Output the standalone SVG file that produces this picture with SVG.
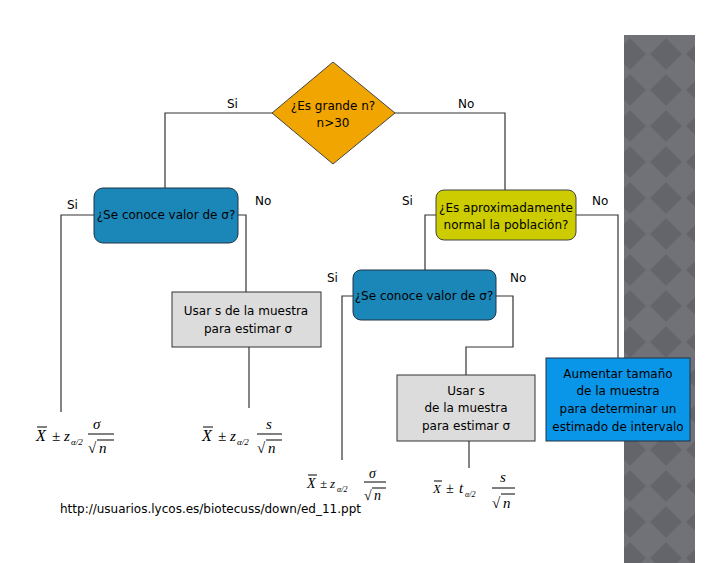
<svg xmlns="http://www.w3.org/2000/svg" width="728" height="563" viewBox="0 0 728 563">
<style>
.t{font-family:"DejaVu Sans","Liberation Sans",sans-serif;font-size:12px;fill:#000}
.c{text-anchor:middle}
.m{font-family:"Liberation Serif",serif;font-style:italic;fill:#000}
.ln{stroke:#333;stroke-width:1.2;fill:none}
.f{stroke:#000;stroke-width:1;fill:none}
</style>
<defs>
<pattern id="dp" width="36" height="36" patternUnits="userSpaceOnUse">
<rect width="36" height="36" fill="#707278"/>
<path d="M18 2 L34 18 L18 34 L2 18 Z" fill="#63656b"/>
</pattern>
<g id="frac">
</g>
</defs>
<rect width="728" height="563" fill="#fff"/>
<rect x="624" y="35" width="71" height="528" fill="url(#dp)"/>
<g id="connectors" class="ln">
<polyline points="272,113 165,113 165,188"/>
<polyline points="395,113 505,113 505,190"/>
<polyline points="94,215 61,215 61,412"/>
<polyline points="238,215 246,215 246,292"/>
<line x1="249" y1="347" x2="249" y2="408"/>
<polyline points="436,215 425,215 425,270"/>
<polyline points="576,215 618,215 618,358"/>
<polyline points="353,296 342,296 342,460"/>
<polyline points="496,296 513,296 513,347 466,347 466,375"/>
<line x1="469" y1="441" x2="469" y2="468"/>
</g>
<g id="labels" class="t">
<text x="227" y="108">Si</text><text x="458" y="108">No</text>
<text x="67" y="209">Si</text><text x="255" y="205">No</text>
<text x="402" y="205">Si</text><text x="592" y="205">No</text>
<text x="327" y="282">Si</text><text x="510" y="282">No</text>
</g>
<g id="n1">
<polygon points="333,62 395,113 333,164 272,113" fill="#F0A500" stroke="#444"/>
<text class="t c" x="333" y="110">¿Es grande n?</text>
<text class="t c" x="333" y="127">n&gt;30</text>
</g>
<g id="n2">
<rect x="94" y="188" width="144" height="55" rx="9" fill="#1A87B8" stroke="#234"/>
<text class="t c" x="166" y="219">¿Se conoce valor de σ?</text>
</g>
<g id="n3">
<rect x="436" y="190" width="140" height="50" rx="8" fill="#CCCC00" stroke="#444"/>
<text class="t c" x="506" y="212">¿Es aproximadamente</text>
<text class="t c" x="506" y="229">normal la población?</text>
</g>
<g id="n4">
<rect x="172" y="292" width="149" height="55" fill="#DCDCDC" stroke="#333"/>
<text class="t c" x="246" y="315">Usar  s de la muestra</text>
<text class="t c" x="248" y="333">para  estimar σ</text>
</g>
<g id="n5">
<rect x="353" y="270" width="143" height="50" rx="8" fill="#1A87B8" stroke="#234"/>
<text class="t c" x="424" y="300">¿Se conoce valor de σ?</text>
</g>
<g id="n6">
<rect x="397" y="375" width="138" height="66" fill="#DCDCDC" stroke="#333"/>
<text class="t c" x="466" y="395">Usar s</text>
<text class="t c" x="466" y="412">de la muestra</text>
<text class="t c" x="466" y="430">para estimar σ</text>
</g>
<g id="n7">
<rect x="546" y="358" width="144" height="83" fill="#0A96E8" stroke="#234"/>
<text class="t c" x="618" y="378">Aumentar tamaño</text>
<text class="t c" x="618" y="395">de la muestra</text>
<text class="t c" x="618" y="413">para determinar un</text>
<text class="t c" x="618" y="431">estimado de intervalo</text>
</g>
<g id="f1">
<text class="m" x="36" y="441" font-size="16">X</text><line class="f" x1="37" y1="427" x2="47" y2="427"/>
<text class="m" x="52" y="441" font-size="15" font-style="normal">±</text>
<text class="m" x="64" y="441" font-size="15">z</text><text class="m" x="71" y="445" font-size="9">α/2</text>
<text class="m" x="93" y="429" font-size="15">σ</text><line class="f" x1="88" y1="434" x2="114" y2="434"/>
<text x="88" y="453" font-size="15" font-family="Liberation Serif">√</text><text class="m" x="99" y="453" font-size="15">n</text><line class="f" x1="97" y1="440" x2="114" y2="440"/>
</g>
<g id="f2">
<text class="m" x="202" y="441" font-size="16">X</text><line class="f" x1="203" y1="427" x2="213" y2="427"/>
<text class="m" x="218" y="441" font-size="15" font-style="normal">±</text>
<text class="m" x="230" y="441" font-size="15">z</text><text class="m" x="237" y="445" font-size="9">α/2</text>
<text class="m" x="266" y="429" font-size="15">s</text><line class="f" x1="257" y1="434" x2="282" y2="434"/>
<text x="257" y="453" font-size="15" font-family="Liberation Serif">√</text><text class="m" x="268" y="453" font-size="15">n</text><line class="f" x1="266" y1="440" x2="282" y2="440"/>
</g>
<g id="f3">
<text class="m" x="307" y="488" font-size="14">X</text><line class="f" x1="308" y1="475" x2="317" y2="475"/>
<text class="m" x="320" y="488" font-size="13" font-style="normal">±</text>
<text class="m" x="330" y="488" font-size="13">z</text><text class="m" x="337" y="492" font-size="8">α/2</text>
<text class="m" x="369" y="478" font-size="14">σ</text><line class="f" x1="364" y1="482" x2="386" y2="482"/>
<text x="364" y="500" font-size="14" font-family="Liberation Serif">√</text><text class="m" x="374" y="500" font-size="14">n</text><line class="f" x1="372" y1="488" x2="386" y2="488"/>
</g>
<g id="f4">
<text class="m" x="433" y="493" font-size="13">X</text><line class="f" x1="434" y1="481" x2="442" y2="481"/>
<text class="m" x="446" y="493" font-size="14" font-style="normal">±</text>
<text class="m" x="459" y="493" font-size="15">t</text><text class="m" x="465" y="497" font-size="8">α/2</text>
<text class="m" x="500" y="482" font-size="15">s</text><line class="f" x1="492" y1="488" x2="515" y2="488"/>
<text x="492" y="508" font-size="15" font-family="Liberation Serif">√</text><text class="m" x="503" y="508" font-size="15">n</text><line class="f" x1="501" y1="494" x2="515" y2="494"/>
</g>
<text class="t" x="60" y="513" font-size="9">http://usuarios.lycos.es/biotecuss/down/ed_11.ppt</text>
</svg>
